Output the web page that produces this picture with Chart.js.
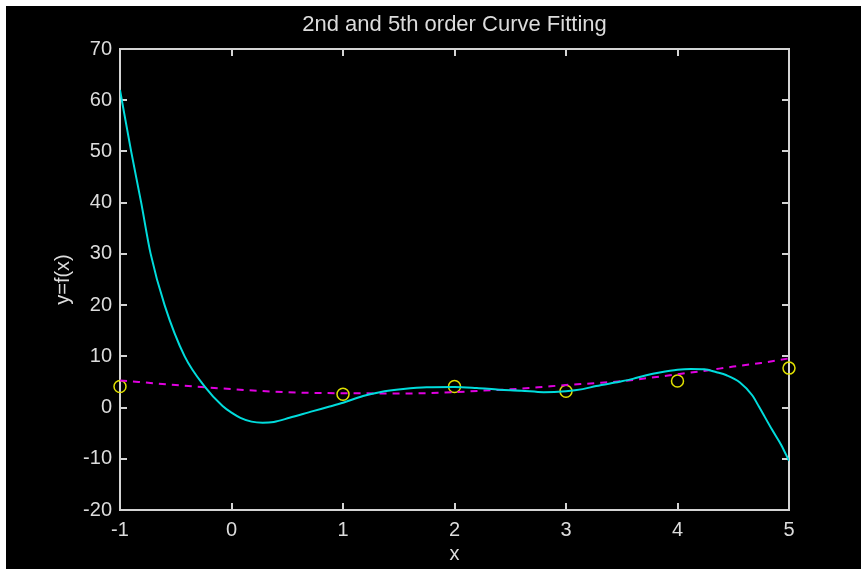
<!DOCTYPE html>
<html>
<head>
<meta charset="utf-8">
<script src="https://cdn.jsdelivr.net/npm/chart.js@4.4.1/dist/chart.umd.min.js"></script>
<style>
  html, body { margin: 0; padding: 0; background: #fff; }
  #wrap { width: 861px; height: 569px; }
</style>
</head>
<body>
<div id="wrap"><canvas id="fit" width="861" height="569"></canvas></div>
<script>
const TITLE = '2nd and 5th order Curve Fitting';

// measured data (circles)
const dataX = [-1, 1, 2, 3, 4, 5];
const dataY = [4.1, 2.6, 4.1, 3.2, 5.2, 7.7];

// 5th order fit
const fit5X = [-1, -0.9, -0.81, -0.725, -0.6, -0.42, -0.24, -0.08, 0.0, 0.08, 0.18, 0.28, 0.38, 0.52, 0.73, 0.88,
               1.0, 1.18, 1.33, 1.54, 1.75, 2.0, 2.2, 2.4, 2.6, 2.8, 3.0, 3.15, 3.27, 3.48, 3.6, 3.72, 3.84,
               4.0, 4.12, 4.24, 4.35, 4.44, 4.56, 4.67, 4.73, 4.85, 4.93, 5.0];
const fit5Y = [62.0, 50, 40, 30, 20, 10, 4.1, 0.3, -1.0, -2.0, -2.75, -2.95, -2.8, -2.0, -0.7, 0.2,
               0.95, 2.26, 3.0, 3.6, 3.95, 4.0, 3.8, 3.5, 3.3, 3.0, 3.2, 3.6, 4.2, 5.05, 5.6, 6.3, 6.85,
               7.4, 7.55, 7.5, 6.9, 6.3, 4.9, 2.4, 0.2, -4.4, -7.3, -10.4];

// 2nd order fit
const fit2X = [-1, -0.5, 0, 0.25, 0.5, 0.75, 1.0, 1.5, 1.75, 2.0, 2.25, 2.5, 2.75, 3.0, 3.25, 3.5, 3.75, 4.0, 4.25, 4.5, 4.75, 5.0];
const fit2Y = [5.3, 4.4, 3.6, 3.25, 3.0, 2.85, 2.8, 2.75, 2.8, 3.0, 3.3, 3.55, 3.95, 4.4, 4.75, 5.15, 5.8, 6.5, 7.2, 8.0, 8.7, 9.6];

const xTicks = [-1, 0, 1, 2, 3, 4, 5];
const yTicks = [-20, -10, 0, 10, 20, 30, 40, 50, 60, 70];

const AXIS = '#d4d4d4';
const TEXT = '#dcdcdc';
const FONT = 'Liberation Sans, Arial, sans-serif';

const pts = (xs, ys) => xs.map((x, i) => ({ x: x, y: ys[i] }));

// black figure window on white
const background = {
    id: 'background',
    beforeDraw(chart) {
        const ctx = chart.ctx;
        ctx.save();
        ctx.fillStyle = '#fff';
        ctx.fillRect(0, 0, chart.width, chart.height);
        ctx.fillStyle = '#000';
        ctx.fillRect(6, 6, chart.width - 6, chart.height - 6);
        ctx.restore();
    }
};

// matlab style box with inward ticks on all sides, title centred on the axes
const axesBox = {
    id: 'axesBox',
    beforeDatasetsDraw(chart) {
        const { ctx, chartArea: a, scales } = chart;
        const tl = 7;
        ctx.save();
        ctx.strokeStyle = AXIS;
        ctx.lineWidth = 2;
        ctx.strokeRect(a.left, a.top, a.right - a.left, a.bottom - a.top);
        ctx.beginPath();
        xTicks.forEach(v => {
            const px = Math.round(scales.x.getPixelForValue(v));
            ctx.moveTo(px, a.bottom); ctx.lineTo(px, a.bottom - tl);
            ctx.moveTo(px, a.top);    ctx.lineTo(px, a.top + tl);
        });
        yTicks.forEach(v => {
            const py = Math.round(scales.y.getPixelForValue(v));
            ctx.moveTo(a.left, py);  ctx.lineTo(a.left + tl, py);
            ctx.moveTo(a.right, py); ctx.lineTo(a.right - tl, py);
        });
        ctx.stroke();

        ctx.fillStyle = TEXT;
        ctx.font = '22px ' + FONT;
        ctx.textAlign = 'center';
        ctx.textBaseline = 'middle';
        ctx.fillText(TITLE, (a.left + a.right) / 2, 25);
        ctx.restore();
    }
};

new Chart(document.getElementById('fit'), {
    type: 'scatter',
    data: {
        datasets: [
            {
                label: '5th order',
                data: pts(fit5X, fit5Y),
                showLine: true,
                borderColor: '#00dcdc',
                borderWidth: 2,
                pointRadius: 0,
                cubicInterpolationMode: 'monotone'
            },
            {
                label: '2nd order',
                data: pts(fit2X, fit2Y),
                showLine: true,
                borderColor: '#e000e0',
                borderWidth: 2,
                borderDash: [7, 6],
                pointRadius: 0,
                cubicInterpolationMode: 'monotone'
            },
            {
                label: 'data',
                data: pts(dataX, dataY),
                showLine: false,
                pointRadius: 6,
                pointBorderWidth: 1.5,
                pointBorderColor: '#e0e000',
                pointBackgroundColor: 'rgba(0,0,0,0)',
                clip: false
            }
        ]
    },
    options: {
        responsive: false,
        animation: false,
        layout: { padding: { top: 49, right: 72, bottom: 0, left: 0 } },
        plugins: {
            legend: { display: false },
            tooltip: { enabled: false },
            title: { display: false }
        },
        scales: {
            x: {
                type: 'linear',
                min: -1,
                max: 5,
                afterBuildTicks: s => { s.ticks = xTicks.map(v => ({ value: v })); },
                afterFit: s => { s.height = 59; },
                grid: { display: false, drawTicks: false },
                border: { display: false },
                ticks: { color: TEXT, padding: 8, font: { family: FONT, size: 20 } },
                title: {
                    display: true,
                    text: 'x',
                    color: TEXT,
                    font: { family: FONT, size: 20 },
                    padding: { top: 0, bottom: 3 }
                }
            },
            y: {
                type: 'linear',
                min: -20,
                max: 70,
                afterBuildTicks: s => { s.ticks = yTicks.map(v => ({ value: v })); },
                afterFit: s => { s.width = 120; },
                grid: { display: false, drawTicks: false },
                border: { display: false },
                ticks: { color: TEXT, padding: 8, font: { family: FONT, size: 20 } },
                title: {
                    display: true,
                    text: 'y=f(x)',
                    color: TEXT,
                    font: { family: FONT, size: 20 },
                    padding: { top: 51, bottom: 0 }
                }
            }
        }
    },
    plugins: [background, axesBox]
});
</script>
</body>
</html>
